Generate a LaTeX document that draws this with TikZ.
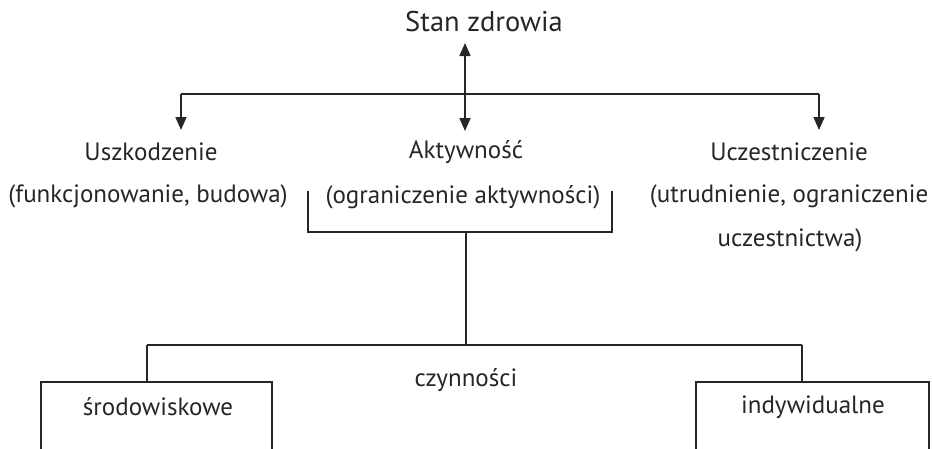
\documentclass[tikz,border=0pt]{standalone}
\usepackage{fontspec}
\setmainfont{PT Sans}
\usetikzlibrary{arrows.meta}
\begin{document}
\begin{tikzpicture}[x=1pt,y=1pt,
  txt/.style={inner sep=0pt,font=\fontsize{25}{29}\selectfont,text=black!85},
  bigtxt/.style={txt,font=\fontsize{28.5}{33}\selectfont},
  ln/.style={line width=1.7pt,draw=black!85},
  arr/.style={ln,-{Triangle[length=13pt,width=11pt]}},
  darr/.style={ln,{Triangle[length=13pt,width=11pt]}-{Triangle[length=13pt,width=11pt]}},
  boxst/.style={draw=black!85,line width=1.7pt,minimum height=120pt,inner sep=0pt}]
\useasboundingbox (0,0) rectangle (933,-448);
\clip (0,0) rectangle (933,-448);
% texts
\node[bigtxt] (stan) at (484,-22) {Stan zdrowia};
\node[txt] (usz) at (151,-152) {Uszkodzenie};
\node[txt] (usz2) at (148,-196) {(funkcjonowanie, budowa)};
\node[txt] (akt) at (466,-152) {Aktywność};
\node[txt] (akt2) at (463,-197) {(ograniczenie aktywności)};
\node[txt] (ucz) at (789,-152) {Uczestniczenie};
\node[txt] (ucz2) at (789,-196) {(utrudnienie, ograniczenie};
\node[txt] (ucz3) at (790,-240) {uczestnictwa)};
\node[txt] (czyn) at (466,-380) {czynności};
% boxes
\node[boxst,minimum width=231pt,anchor=north west] (sbox) at (40,-381) {};
\node[boxst,minimum width=233pt,anchor=north west] (ibox) at (695,-381) {};
\node[txt] (srod) at (158,-407) {środowiskowe};
\node[txt] (indy) at (813,-407) {indywidualne};
% coordinates
\coordinate (top) at (465,-43);
\coordinate (bot) at (465,-131);
\coordinate (hl) at (181,-94);
\coordinate (hr) at (819,-94);
\coordinate (al) at (181,-130);
\coordinate (ar) at (819,-130);
\coordinate (bl) at (308,-191);
\coordinate (br) at (612,-191);
\coordinate (bm) at (466,-232);
\coordinate (cm) at (466,-345);
\coordinate (sl) at (147,-345);
\coordinate (sr) at (802,-345);
% connectors
\draw[darr] (top) -- (bot);
\draw[ln] (hl) -- (hr);
\draw[arr] (hl) -- (al);
\draw[arr] (hr) -- (ar);
\draw[ln] (bl) |- (bm) -| (br);
\draw[ln] (bm) -- (cm);
\draw[ln] (sl) -- (sr);
\draw[ln] (sl) -- (sl |- sbox.north);
\draw[ln] (sr) -- (sr |- ibox.north);
\end{tikzpicture}
\end{document}
